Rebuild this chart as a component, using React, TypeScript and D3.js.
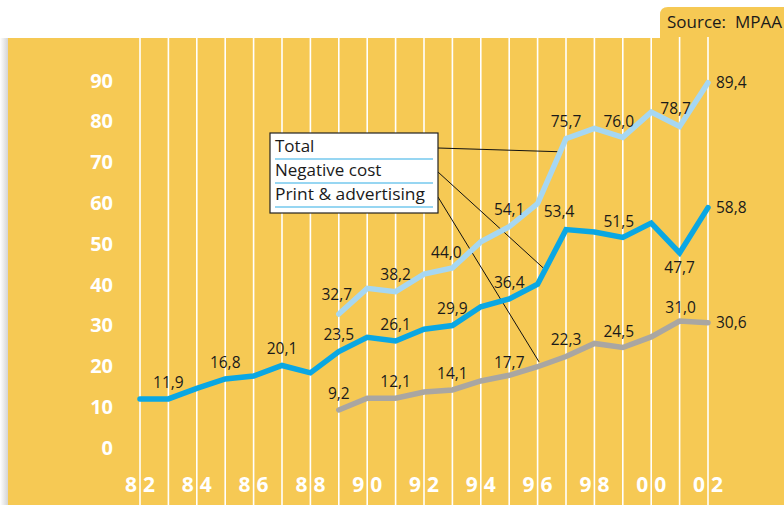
import React from "react";
import * as d3 from "d3";

const W = 784;
const H = 505;

const years = d3.range(1982, 2003);
const negYears = d3.range(1982, 2003);
const negCost = [11.9, 11.9, 14.5, 16.8, 17.5, 20.1, 18.3, 23.5, 27.0, 26.1, 29.0, 29.9, 34.5, 36.4, 40.0, 53.4, 52.8, 51.5, 55.0, 47.7, 58.8];
const totYears = d3.range(1989, 2003);
const total = [32.7, 39.0, 38.2, 42.5, 44.0, 50.4, 54.1, 59.8, 75.7, 78.2, 76.0, 82.2, 78.7, 89.4];
const printYears = d3.range(1989, 2003);
const printAdv = [9.2, 12.1, 12.1, 13.6, 14.1, 16.3, 17.7, 19.8, 22.3, 25.5, 24.5, 27.1, 31.0, 30.6];

const negLabelYears = [1983, 1985, 1987, 1989, 1991, 1993, 1995, 1997, 1999, 2001, 2002];
const totLabelYears = [1989, 1991, 1993, 1995, 1997, 1999, 2001, 2002];
const printLabelYears = [1989, 1991, 1993, 1995, 1997, 1999, 2001, 2002];

const yTicks = [0, 10, 20, 30, 40, 50, 60, 70, 80, 90];
const xTickYears = [1982, 1984, 1986, 1988, 1990, 1992, 1994, 1996, 1998, 2000, 2002];
const legendItems = ["Total", "Negative cost", "Print & advertising"];
const sourceText = "Source:\u00A0 MPAA";

const YELLOW = "#F6C954";
const C_TOTAL = "#A6D7F2";
const C_NEG = "#0AA7E3";
const C_PRINT = "#A9A6A2";
const FONT = "'Open Sans', 'Noto Sans', sans-serif";

const x = d3.scaleLinear().domain([1982, 2002]).range([140, 708]);
const y = d3.scaleLinear().domain([0, 90]).range([447.5, 80.3]);

type Series = { name: string; years: number[]; values: number[]; color: string; labels: number[] };
const series: Series[] = [
  { name: "print", years: printYears, values: printAdv, color: C_PRINT, labels: printLabelYears },
  { name: "neg", years: negYears, values: negCost, color: C_NEG, labels: negLabelYears },
  { name: "total", years: totYears, values: total, color: C_TOTAL, labels: totLabelYears },
];

const fmt = (v: number) => v.toFixed(1).replace(".", ",");

function labelOffset(name: string, yr: number): { dx: number; dy: number; anchor: string } {
  if (yr === 2002) return { dx: 8, dy: 0, anchor: "start" };
  if (name === "neg" && yr === 2001) return { dx: 0, dy: 15, anchor: "middle" };
  if (name === "neg" && yr === 1997) return { dx: -7, dy: -18, anchor: "middle" };
  if (yr === 1999) return { dx: -4, dy: -16, anchor: "middle" };
  if (name === "total" && yr === 2001) return { dx: -4, dy: -18, anchor: "middle" };
  if (name === "total" && yr === 1993) return { dx: -6, dy: -16, anchor: "middle" };
  if (name === "total" && yr === 1989) return { dx: -2, dy: -20, anchor: "middle" };
  if (name === "print" && yr === 1995) return { dx: 0, dy: -13, anchor: "middle" };
  if (name === "print" && yr === 2001) return { dx: 1, dy: -14, anchor: "middle" };
  return { dx: 0, dy: -17, anchor: "middle" };
}

export default function App() {
  const line = d3
    .line<[number, number]>()
    .x((d) => x(d[0]))
    .y((d) => y(d[1]))
    .curve(d3.curveLinear);

  const legendX = 270;
  const legendY = 133;
  const legendW = 168;
  const legendH = 80;
  const rowH = 24;

  const leaderEnds: [number, number][] = [
    [1996.7, 72.5],
    [1996.2, 44],
    [1996.05, 21],
  ];

  return (
    <svg
      width={W}
      height={H}
      style={{ position: "absolute", left: 0, top: 0, display: "block" }}
      fontFamily={FONT}
    >
      <defs>
        <linearGradient id="shadow" x1="0" x2="1" y1="0" y2="0">
          <stop offset="0" stopColor="#ffffff" />
          <stop offset="1" stopColor="#d4d4d4" />
        </linearGradient>
      </defs>
      <rect x={0} y={0} width={W} height={H} fill="#ffffff" />
      <rect x={0} y={38} width={8} height={H - 38} fill="url(#shadow)" />
      {/* source tab */}
      <path d="M660,39 L660,15 Q660,7 668,7 L784,7 L784,39 Z" fill={YELLOW} />
      <text x={667} y={28} fontSize={17} fill="#1a1a1a">
        {sourceText}
      </text>
      {/* panel */}
      <rect x={8} y={38} width={W - 8} height={H - 38} fill={YELLOW} />
      {/* vertical grid */}
      {years.map((yr) => (
        <line key={yr} x1={x(yr)} x2={x(yr)} y1={37} y2={H} stroke="#ffffff" strokeWidth={1.6} />
      ))}
      {/* y labels */}
      {yTicks.map((t) => (
        <text
          key={t}
          x={113}
          y={y(t)}
          dy="0.36em"
          textAnchor="end"
          fontSize={20}
          fontWeight={700}
          fill="#ffffff"
        >
          {t}
        </text>
      ))}
      {/* x labels */}
      {xTickYears.map((yr) => {
        const s = String(yr).slice(2);
        return (
          <g key={yr} fontSize={21} fontWeight={700} fill="#ffffff">
            <text x={x(yr) - 3} y={492} textAnchor="end">
              {s[0]}
            </text>
            <text x={x(yr) + 3} y={492} textAnchor="start">
              {s[1]}
            </text>
          </g>
        );
      })}
      {/* leader lines */}
      {leaderEnds.map((e, i) => (
        <line
          key={i}
          x1={legendX + legendW}
          y1={legendY + 15 + i * rowH + (i === 2 ? 1 : 0)}
          x2={x(e[0])}
          y2={y(e[1])}
          stroke="#111"
          strokeWidth={1}
        />
      ))}
      {/* series lines */}
      {series.map((s) => (
        <path
          key={s.name}
          d={line(s.years.map((yr, i) => [yr, s.values[i]] as [number, number])) || ""}
          fill="none"
          stroke={s.color}
          strokeWidth={5.5}
          strokeLinejoin="miter"
          strokeLinecap="round"
        />
      ))}
      {/* data labels */}
      {series.map((s) =>
        s.labels.map((yr) => {
          const i = s.years.indexOf(yr);
          const v = s.values[i];
          const o = labelOffset(s.name, yr);
          return (
            <text
              key={s.name + yr}
              x={x(yr) + o.dx}
              y={y(v) + o.dy}
              dy="0.36em"
              textAnchor={o.anchor}
              fontSize={15.5}
              fill="#1a1a1a"
            >
              {fmt(v)}
            </text>
          );
        })
      )}
      {/* legend */}
      <rect
        x={legendX}
        y={legendY}
        width={legendW}
        height={legendH}
        fill="#ffffff"
        stroke="#222"
        strokeWidth={1.2}
      />
      {legendItems.map((name, i) => (
        <g key={name}>
          <text
            x={legendX + 5}
            y={legendY + 19 + i * rowH}
            fontSize={17}
            textLength={name === "Print & advertising" ? 150 : undefined}
            lengthAdjust="spacingAndGlyphs"
            fill="#1a1a1a"
          >
            {name}
          </text>
          <line
            x1={legendX + 5}
            x2={legendX + legendW - 5}
            y1={legendY + 26 + i * rowH}
            y2={legendY + 26 + i * rowH}
            stroke="#74C8EE"
            strokeWidth={1.6}
          />
        </g>
      ))}
    </svg>
  );
}
